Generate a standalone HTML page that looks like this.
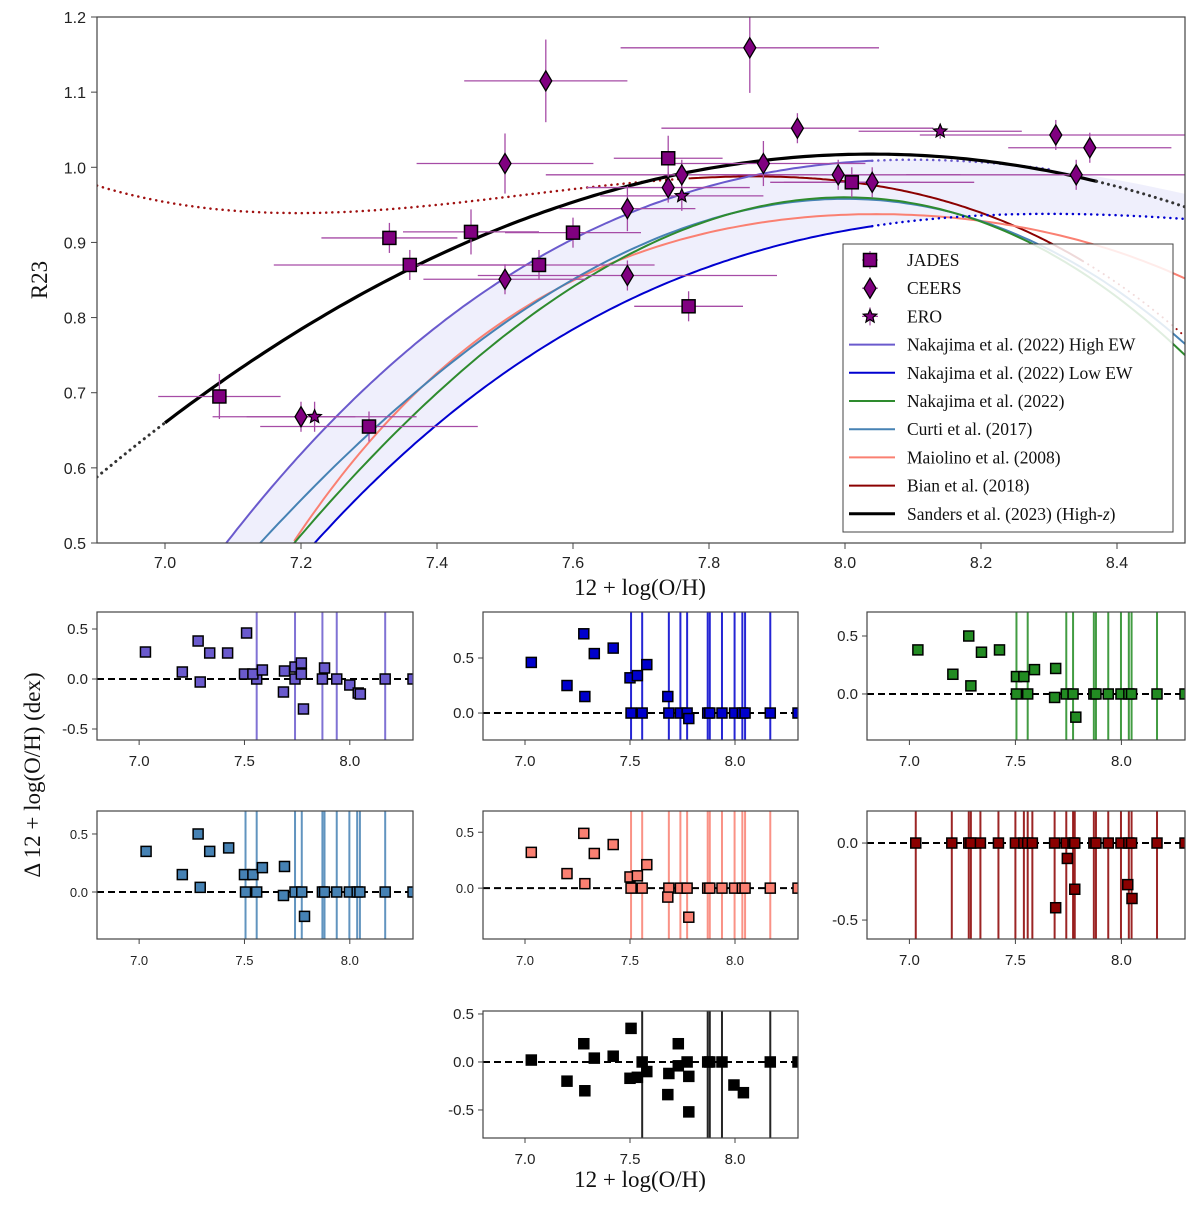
<!DOCTYPE html>
<html><head><meta charset="utf-8">
<style>
html,body{margin:0;padding:0;background:#fff;}
svg{display:block;}
text{font-family:"Liberation Sans",sans-serif;}
.serif{font-family:"Liberation Serif",serif;}
</style></head>
<body>
<svg id="chart" width="1200" height="1210" viewBox="0 0 1200 1210" xmlns="http://www.w3.org/2000/svg"></svg>
<script>
// ---------- data ----------
const jadesX = [7.08,7.30,7.33,7.36,7.45,7.55,7.60,7.74,7.77,8.01];
const jadesY = [0.695,0.655,0.906,0.870,0.914,0.870,0.913,1.012,0.815,0.980];
const jadesXerr = [0.09,0.16,0.10,0.20,0.10,0.17,0.10,0.08,0.08,0.10];
const jadesYerr = [0.03,0.02,0.02,0.02,0.03,0.02,0.02,0.03,0.02,0.02];
const ceersX = [7.20,7.50,7.50,7.56,7.68,7.68,7.74,7.76,7.86,7.88,7.93,7.99,8.04,8.31,8.34,8.36];
const ceersY = [0.668,0.851,1.005,1.115,0.856,0.945,0.973,0.990,1.159,1.005,1.052,0.990,0.980,1.043,0.990,1.026];
const ceersXerr = [0.08,0.12,0.13,0.12,0.22,0.10,0.12,0.20,0.19,0.15,0.20,0.18,0.15,0.20,0.25,0.12];
const ceersYerr = [0.02,0.02,0.04,0.055,0.02,0.03,0.02,0.02,0.06,0.03,0.02,0.02,0.02,0.02,0.02,0.02];
const eroX = [7.22,7.76,8.14];
const eroY = [0.668,0.962,1.048];
const eroXerr = [0.15,0.12,0.12];
const eroYerr = [0.02,0.02,0.01];
const mainXTicks = [7.0,7.2,7.4,7.6,7.8,8.0,8.2,8.4];
const mainYTicks = [0.5,0.6,0.7,0.8,0.9,1.0,1.1,1.2];

// residual panels
const commonZ = [7.505,7.558,7.685,7.74,7.772,7.87,7.88,7.938,7.998,8.035,8.048,8.168,8.30];
const commonZnoLow = [7.505,7.558,7.74,7.772,7.87,7.88,7.938,7.998,8.035,8.048,8.168,8.30];
const ptsA = [[7.03,.27],[7.205,.07],[7.28,.38],[7.29,-.03],[7.335,.26],[7.42,.26],[7.51,.46],[7.50,.05],[7.54,.05],[7.585,.09],[7.685,-.13],[7.69,.08],[7.74,.12],[7.77,.16],[7.77,.05],[7.78,-.30],[7.88,.11],[8.0,-.06],[8.04,-.14],[8.05,-.15]];
const zerosA = [7.558,7.74,7.87,7.938,8.168,8.30];
const vlinesA = [7.558,7.74,7.87,7.938,8.168];
const ptsB = [[7.03,.46],[7.20,.25],[7.28,.72],[7.285,.15],[7.33,.54],[7.42,.59],[7.50,.32],[7.535,.34],[7.58,.44],[7.68,.15],[7.78,-.05]];
const ptsC = [[7.04,.38],[7.205,.17],[7.28,.5],[7.29,.07],[7.34,.36],[7.425,.38],[7.505,.15],[7.54,.15],[7.59,.21],[7.69,.22],[7.685,-.03],[7.785,-.2]];
const ptsD = [[7.033,.35],[7.205,.15],[7.28,.5],[7.29,.04],[7.335,.35],[7.425,.38],[7.50,.15],[7.54,.15],[7.585,.21],[7.69,.22],[7.685,-.03],[7.785,-.21]];
const ptsE = [[7.03,.32],[7.20,.13],[7.28,.49],[7.285,.04],[7.33,.31],[7.42,.39],[7.50,.1],[7.535,.11],[7.58,.21],[7.68,-.08],[7.78,-.26]];
const ptsF = [[7.745,-.10],[7.78,-.30],[7.69,-.42],[8.03,-.27],[8.05,-.36]];
const zerosF = [7.03,7.20,7.28,7.29,7.335,7.42,7.50,7.54,7.558,7.58,7.685,7.74,7.772,7.78,7.87,7.88,7.938,7.998,8.035,8.048,8.168,8.30];
const ptsG = [[7.03,.02],[7.20,-.2],[7.28,.19],[7.285,-.30],[7.33,.04],[7.42,.06],[7.505,.35],[7.50,-.17],[7.535,-.16],[7.58,-.1],[7.68,-.34],[7.685,-.12],[7.73,.19],[7.73,-.04],[7.78,-.15],[7.78,-.52],[7.995,-.24],[8.04,-.32]];
const zerosG = [7.558,7.772,7.87,7.88,7.938,8.168,8.30];
const vlinesG = [7.558,7.87,7.88,7.938,8.168];

const NS="http://www.w3.org/2000/svg";
const svg=document.getElementById('chart');
function el(tag,attrs,parent){const e=document.createElementNS(NS,tag);for(const k in attrs)e.setAttribute(k,attrs[k]);(parent||svg).appendChild(e);return e;}

// ---------- main axes ----------
const M={l:97,r:1185,t:17,b:543,x0:6.9,x1:8.5,y0:0.5,y1:1.2};
const X=v=>M.l+(v-M.x0)/(M.x1-M.x0)*(M.r-M.l);
const Y=v=>M.b-(v-M.y0)/(M.y1-M.y0)*(M.b-M.t);
el('defs',{}).innerHTML='<clipPath id="mainclip"><rect x="97" y="17" width="1088" height="526"/></clipPath>';
const gMain=el('g',{'clip-path':'url(#mainclip)'});



function curve(f,a,b,n){let d='';for(let i=0;i<=n;i++){const x=a+(b-a)*i/n;d+=(i?'L':'M')+X(x).toFixed(1)+','+Y(f(x)).toFixed(1);}return d;}
// calibrations
const fHigh=x=>{const d=x-8.1;return 1.01-0.345*d*d+0.1535*d*d*d;};
const fLow=x=>{const d=x-8.3;return 0.938-0.1997*d*d+0.1629*d*d*d;};
const fNak=x=>{const d=x-8.0;return 0.96-0.787*d*d-0.106*d*d*d;};
const fCurti=x=>{const d=x-8.0;return 0.958-0.716*d*d-0.1123*d*d*d;};
const fMaio=x=>{const t=x-8.69;return 0.7462-0.7149*t-0.9401*t*t-0.6154*t*t*t-0.2524*t*t*t*t;};
const fBian=x=>138.0430-54.8284*x+7.2954*x*x-0.32293*x*x*x;
const fSand=x=>{const t=x-8;return 1.017+0.026*t-0.331*t*t;};

// shaded band
let band='';const N=120;
for(let i=0;i<=N;i++){const x=7.09+(8.5-7.09)*i/N;band+=(i?'L':'M')+X(x).toFixed(1)+','+Y(fHigh(x)).toFixed(1);}
for(let i=N;i>=0;i--){const x=7.09+(8.5-7.09)*i/N;band+='L'+X(x).toFixed(1)+','+Y(Math.max(0.45,fLow(x))).toFixed(1);}
const bandEl=el('path',{d:band+'Z',fill:'#ececfb',opacity:'0.85'},gMain);



function line(f,a,b,color,w,dash,name){const p=el('path',{d:curve(f,a,b,150),fill:'none',stroke:color,'stroke-width':w,'stroke-dasharray':dash||'none','stroke-linecap':dash?'round':'butt'},gMain);return p;}
line(fBian,6.9,7.77,'#a01010',2.5,'0.1 6','bian-2018-extrapolated');
line(fBian,7.77,8.35,'#8b0000',2,null,'bian-2018-curve');
line(fBian,8.35,8.5,'#a01010',2,'0.1 6','bian-2018-extrapolated-high');
line(fMaio,7.19,8.5,'#fa8072',2,null,'maiolino-2008-curve');
line(fCurti,7.13,8.5,'#4682b4',2,null,'curti-2017-curve');
line(fNak,7.18,8.5,'#2e8b2e',2,null,'nakajima-2022-curve');
line(fLow,7.2,8.04,'#0000d0',2,null,'nakajima-low-ew-curve');
line(fLow,8.04,8.5,'#0000d0',2.5,'0.1 6','nakajima-low-ew-extrapolated');
line(fHigh,7.08,8.04,'#6a5acd',2,null,'nakajima-high-ew-curve');
line(fHigh,8.04,8.3,'#6a5acd',2.5,'0.1 6','nakajima-high-ew-extrapolated');
line(fSand,6.9,7.0,'#333',3,'0.1 6','sanders-extrapolated-low');
line(fSand,7.0,8.37,'#000',3.2,null,'sanders-2023-curve');
line(fSand,8.37,8.5,'#333',3,'0.1 6','sanders-extrapolated-high');

// data points
const pc='#800080';
function errbars(xs,ys,xe,ye,name){for(let i=0;i<xs.length;i++){
 const g=el('g',{},gMain);
 el('line',{x1:X(xs[i]-xe[i]),x2:X(xs[i]+xe[i]),y1:Y(ys[i]),y2:Y(ys[i]),stroke:'#a64ca6','stroke-width':1.3},g);
 el('line',{x1:X(xs[i]),x2:X(xs[i]),y1:Y(ys[i]-ye[i]),y2:Y(ys[i]+ye[i]),stroke:'#a64ca6','stroke-width':1.3},g);}}
errbars(jadesX,jadesY,jadesXerr,jadesYerr,'jades');
errbars(ceersX,ceersY,ceersXerr,ceersYerr,'ceers');
errbars(eroX,eroY,eroXerr,eroYerr,'ero');
function square(cx,cy,s,fill,parent){return el('rect',{x:cx-s/2,y:cy-s/2,width:s,height:s,fill:fill,stroke:'#000','stroke-width':1.5},parent);}
function diamond(cx,cy,parent){return el('path',{d:`M${cx},${cy-10}L${cx+6},${cy}L${cx},${cy+10}L${cx-6},${cy}Z`,fill:pc,stroke:'#000','stroke-width':1.3},parent);}
function star(cx,cy,r,parent){let d='';for(let i=0;i<10;i++){const a=-Math.PI/2+i*Math.PI/5;const rr=i%2?r*0.45:r;d+=(i?'L':'M')+(cx+rr*Math.cos(a)).toFixed(1)+','+(cy+rr*Math.sin(a)).toFixed(1);}return el('path',{d:d+'Z',fill:pc,stroke:'#000','stroke-width':1.2},parent);}
for(let i=0;i<jadesX.length;i++){const s=square(X(jadesX[i]),Y(jadesY[i]),13,pc,gMain);}
for(let i=0;i<ceersX.length;i++){const s=diamond(X(ceersX[i]),Y(ceersY[i]),gMain);}
for(let i=0;i<eroX.length;i++){const s=star(X(eroX[i]),Y(eroY[i]),7,gMain);}

// legend
const lg=el('g',{});


el('rect',{x:843,y:244,width:330,height:288,fill:'#fff','fill-opacity':0.85,stroke:'#444','stroke-width':1},lg);
const legNames=['JADES','CEERS','ERO','Nakajima et al. (2022) High EW','Nakajima et al. (2022) Low EW','Nakajima et al. (2022)','Curti et al. (2017)','Maiolino et al. (2008)','Bian et al. (2018)','Sanders et al. (2023) (High-'];
const legColors=[null,null,null,'#6a5acd','#0000d0','#2e8b2e','#4682b4','#fa8072','#8b0000','#000'];
for(let i=0;i<legNames.length;i++){
 const y=260+i*28.2;
 const g=el('g',{},lg);
 if(i<3){el('line',{x1:870,x2:870,y1:y-9,y2:y+9,stroke:'#a64ca6','stroke-width':1.2},g);el('line',{x1:862,x2:878,y1:y,y2:y,stroke:'#a64ca6','stroke-width':1.2},g);
  if(i==0)square(870,y,13,pc,g);else if(i==1)diamond(870,y,g);else star(870,y,7,g);}
 else el('line',{x1:849,x2:895,y1:y,y2:y,stroke:legColors[i],'stroke-width':i==9?3:2},g);
 const t=el('text',{x:907,y:y+6,'font-size':17.5,class:'serif',fill:'#111'},g);
 t.textContent=legNames[i];
 if(i==9){const ts=el('tspan',{'font-style':'italic'},t);ts.textContent='z';const ts2=el('tspan',{},t);ts2.textContent=')';}
}

// main frame & ticks
const fr=el('rect',{x:97,y:17,width:1088,height:526,fill:'none',stroke:'#444','stroke-width':1.2});

const gx=el('g',{});
mainXTicks.forEach(v=>{el('line',{x1:X(v),x2:X(v),y1:543,y2:549,stroke:'#444'},gx);const t=el('text',{x:X(v),y:568,'font-size':16,'text-anchor':'middle',fill:'#222'},gx);t.textContent=v.toFixed(1);});
const gy=el('g',{});
mainYTicks.forEach(v=>{el('line',{x1:91,x2:97,y1:Y(v),y2:Y(v),stroke:'#444'},gy);const t=el('text',{x:86,y:Y(v)+6,'font-size':16,'text-anchor':'end',fill:'#222'},gy);t.textContent=v.toFixed(1);});
let t=el('text',{x:640,y:595,'font-size':23,'text-anchor':'middle',class:'serif',fill:'#111'});t.textContent='12 + log(O/H)';

t=el('text',{x:0,y:0,'font-size':23,'text-anchor':'middle',class:'serif',fill:'#111',transform:'translate(47,280) rotate(-90)'});t.textContent='R23';


// ---------- residual panels ----------
const panels=[
 {name:'panel-nakajima-high-ew',x:97,y:612,w:316,h:128,y0:-0.61,y1:0.67,ticks:[-0.5,0,0.5],color:'#6a5acd',pts:ptsA,zeros:zerosA,vl:vlinesA,fs:15},
 {name:'panel-nakajima-low-ew',x:483,y:612,w:315,h:128,y0:-0.245,y1:0.918,ticks:[0,0.5],color:'#0000cd',pts:ptsB,zeros:commonZ,vl:commonZ.slice(0,12),fs:15},
 {name:'panel-nakajima-2022',x:867,y:612,w:318,h:128,y0:-0.397,y1:0.707,ticks:[0,0.5],color:'#228b22',pts:ptsC,zeros:commonZnoLow,vl:commonZnoLow.slice(0,11),fs:15},
 {name:'panel-curti-2017',x:97,y:811,w:316,h:128,y0:-0.405,y1:0.698,ticks:[0,0.5],color:'#4682b4',pts:ptsD,zeros:commonZnoLow,vl:commonZnoLow.slice(0,11),fs:13},
 {name:'panel-maiolino-2008',x:483,y:811,w:315,h:128,y0:-0.455,y1:0.69,ticks:[0,0.5],color:'#fa8072',pts:ptsE,zeros:commonZ,vl:commonZ.slice(0,12),fs:13},
 {name:'panel-bian-2018',x:867,y:811,w:318,h:128,y0:-0.623,y1:0.208,ticks:[-0.5,0],color:'#8b0000',pts:ptsF,zeros:zerosF,vl:zerosF.slice(0,21),fs:15},
 {name:'panel-sanders-2023',x:483,y:1011,w:315,h:127,y0:-0.792,y1:0.531,ticks:[-0.5,0,0.5],color:'#000000',pts:ptsG,zeros:zerosG,vl:vlinesG,fs:15}
];
const px0=6.8,px1=8.3,pxt=[7.0,7.5,8.0];
panels.forEach((P,k)=>{
 const g=el('g',{});
 const cx=v=>P.x+(v-px0)/(px1-px0)*P.w;
 const cy=v=>P.y+P.h-(v-P.y0)/(P.y1-P.y0)*P.h;
 el('clipPath',{id:'pc'+k},g).innerHTML=`<rect x="${P.x}" y="${P.y}" width="${P.w}" height="${P.h}"/>`;
 const inner=el('g',{'clip-path':`url(#pc${k})`},g);
 P.vl.forEach(v=>{const l=el('line',{x1:cx(v),x2:cx(v),y1:P.y,y2:P.y+P.h,stroke:P.color,'stroke-width':2,opacity:0.85},inner);});
 const zl=el('line',{x1:P.x,x2:P.x+P.w,y1:cy(0),y2:cy(0),stroke:'#000','stroke-width':2,'stroke-dasharray':'7,4'},inner);
 
 P.zeros.forEach(v=>{const s=square(cx(v),cy(0),10,P.color,inner);});
 P.pts.forEach(p=>{const s=square(cx(p[0]),cy(p[1]),10,P.color,inner);});
 el('rect',{x:P.x,y:P.y,width:P.w,height:P.h,fill:'none',stroke:'#444','stroke-width':1.2},g);
 pxt.forEach(v=>{el('line',{x1:cx(v),x2:cx(v),y1:P.y+P.h,y2:P.y+P.h+5,stroke:'#444'},g);const tt=el('text',{x:cx(v),y:P.y+P.h+26,'font-size':P.fs,'text-anchor':'middle',fill:'#222'},g);tt.textContent=v.toFixed(1);});
 P.ticks.forEach(v=>{el('line',{x1:P.x-5,x2:P.x,y1:cy(v),y2:cy(v),stroke:'#444'},g);const tt=el('text',{x:P.x-9,y:cy(v)+5,'font-size':P.fs,'text-anchor':'end',fill:'#222'},g);tt.textContent=(v<0?'-':'')+Math.abs(v).toFixed(1);});
});
t=el('text',{x:0,y:0,'font-size':23,'text-anchor':'middle',class:'serif',fill:'#111',transform:'translate(40,775) rotate(-90)'});t.textContent='Δ 12 + log(O/H) (dex)';

t=el('text',{x:640,y:1187,'font-size':23,'text-anchor':'middle',class:'serif',fill:'#111'});t.textContent='12 + log(O/H)';

</script>
</body></html>
